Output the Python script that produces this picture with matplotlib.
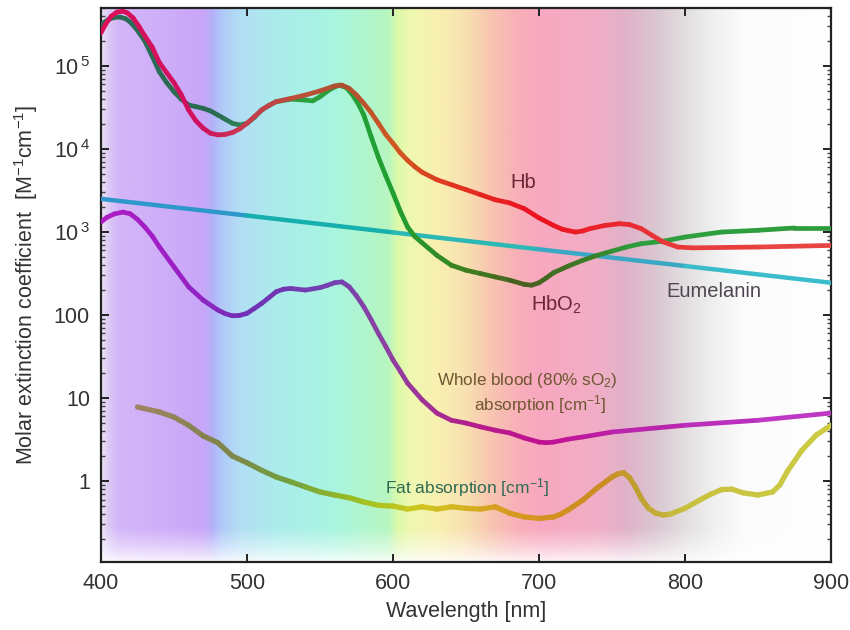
import numpy as np
import matplotlib
matplotlib.use("Agg")
import matplotlib.pyplot as plt
from matplotlib.collections import LineCollection
from matplotlib.colors import to_rgb
from matplotlib.ticker import FixedLocator, FixedFormatter, LogLocator, NullFormatter

plt.rcParams['font.family'] = ['Liberation Sans', 'DejaVu Sans']
plt.rcParams['mathtext.fontset'] = 'custom'
plt.rcParams['mathtext.rm'] = 'Liberation Sans'
plt.rcParams['mathtext.it'] = 'Liberation Sans'

# ---------------- data ----------------
hb_wl = [400, 403, 407, 411, 415, 418, 422, 426, 430, 435, 440, 445, 450, 455, 460, 465, 470,
         475, 480, 485, 490, 495, 500, 505, 510, 515, 520, 530, 540, 550, 560, 565, 570, 575,
         580, 585, 590, 595, 600, 605, 610, 615, 620, 630, 640, 650, 660, 670, 680, 690, 700,
         710, 716, 720, 725, 730, 735, 745, 755, 762, 770, 778, 785, 795, 805, 850, 900]
hb_val = [251000, 316000, 398000, 447000, 457000, 437000, 380000, 300000, 230000, 170000,
          110000, 83000, 63000, 45000, 29500, 21900, 17800, 15500, 14800, 15000, 15800, 17500,
          20400, 24500, 29500, 33500, 37200, 40700, 44700, 50100, 57500, 58900, 53700, 44700,
          35500, 27500, 20400, 15000, 11700, 9000, 7300, 6100, 5250, 4270, 3720, 3240, 2820,
          2450, 2240, 1910, 1480, 1200, 1080, 1040, 1000, 1030, 1100, 1200, 1260, 1230, 1100,
          900, 760, 660, 645, 660, 690]

hbo2_wl = [400, 405, 409, 413, 417, 420, 425, 430, 435, 440, 445, 450, 455, 460, 465, 470, 475,
           480, 485, 490, 495, 500, 505, 510, 515, 520, 530, 540, 545, 550, 557, 563, 568, 572,
           576, 580, 585, 590, 595, 600, 605, 610, 615, 620, 630, 640, 650, 660, 670, 680, 690,
           695, 700, 705, 710, 720, 730, 740, 750, 760, 770, 785, 800, 825, 850, 875, 900]
hbo2_val = [316000, 363000, 385000, 389000, 370000, 339000, 269000, 200000, 132000, 85000,
            63000, 49000, 39800, 33900, 32400, 30900, 28800, 25700, 22900, 20400, 19500, 20400,
            24000, 29500, 33500, 37200, 39800, 38900, 38000, 42700, 52500, 58900, 55000, 45700,
            35500, 25700, 14100, 7940, 4790, 2950, 1780, 1150, 880, 741, 525, 398, 347, 316,
            288, 263, 234, 229, 245, 280, 324, 389, 457, 525, 589, 661, 724, 776, 871, 1000,
            1050, 1120, 1120]

mel_wl = [400, 500, 600, 700, 800, 900]
mel_val = [2510, 1580, 990, 620, 390, 245]

blood_wl = [400, 404, 409, 415, 420, 425, 430, 435, 440, 450, 460, 470, 480, 485, 490, 495, 500,
            505, 510, 515, 520, 525, 530, 540, 550, 555, 560, 565, 570, 575, 580, 585, 590, 595,
            600, 605, 610, 615, 620, 630, 640, 650, 660, 670, 680, 690, 700, 705, 710, 720, 730,
            750, 800, 850, 900]
blood_val = [1320, 1500, 1650, 1740, 1660, 1420, 1150, 900, 661, 380, 219, 151, 115, 104, 98,
             99, 105, 120, 138, 162, 191, 205, 209, 200, 214, 228, 245, 251, 219, 170, 126, 88,
             60, 42, 28.8, 21, 15.1, 12, 9.5, 6.6, 5.4, 5.0, 4.5, 4.1, 3.8, 3.3, 2.95, 2.9, 2.95,
             3.2, 3.4, 3.9, 4.7, 5.4, 6.6]

fat_wl = [425, 440, 450, 460, 470, 480, 490, 500, 510, 520, 530, 540, 550, 560, 570, 580, 590,
          600, 610, 620, 630, 640, 650, 660, 670, 680, 690, 700, 710, 715, 720, 730, 740, 750,
          754, 758, 762, 766, 770, 775, 780, 785, 790, 800, 810, 818, 825, 832, 840, 850, 860,
          865, 870, 880, 890, 900]
fat_val = [7.8, 6.8, 5.9, 4.7, 3.5, 2.9, 2.0, 1.66, 1.35, 1.12, 0.98, 0.85, 0.74, 0.68, 0.63,
           0.56, 0.51, 0.50, 0.46, 0.49, 0.46, 0.49, 0.47, 0.46, 0.49, 0.41, 0.37, 0.355, 0.37,
           0.40, 0.45, 0.59, 0.83, 1.12, 1.22, 1.26, 1.10, 0.85, 0.62, 0.47, 0.41, 0.39, 0.40,
           0.47, 0.59, 0.70, 0.79, 0.80, 0.72, 0.68, 0.74, 0.90, 1.30, 2.34, 3.6, 4.7]

x_ticks = [400, 500, 600, 700, 800, 900]
y_ticks = [1, 10, 100, 1e3, 1e4, 1e5]
y_tick_labels = ['1', '10', '100', r'$10^{\,3}$', r'$10^{\,4}$', r'$10^{\,5}$']

# ---------------- styling helpers ----------------
def grad_colors(wl_stops, col_stops, wl):
    rgb = np.array([to_rgb(c) for c in col_stops])
    return np.stack([np.interp(wl, wl_stops, rgb[:, i]) for i in range(3)], axis=1)

def grad_line(ax, x, y, wl_stops, col_stops, lw=3.0, z=3):
    x = np.asarray(x, float); y = np.asarray(y, float)
    pts = np.stack([x, y], axis=1)
    segs = np.stack([pts[:-1], pts[1:]], axis=1)
    mids = 0.5 * (x[:-1] + x[1:])
    cols = grad_colors(wl_stops, col_stops, mids)
    lc = LineCollection(segs, colors=cols, linewidths=lw, capstyle='round',
                        joinstyle='round', zorder=z)
    ax.add_collection(lc)

W, H = 850, 630
fig = plt.figure(figsize=(W / 100, H / 100), dpi=100)
pos = [101 / W, 1 - 562 / H, (831 - 101) / W, (562 - 8) / H]

# background spectrum
bg = fig.add_axes(pos, zorder=0)
bg_wl_stops = [400, 405, 412, 470, 476, 482, 495, 520, 560, 597, 603, 612, 630, 650, 665, 685,
               700, 740, 760, 780, 800, 820, 840, 900]
bg_cols = ['#ece2f4', '#dccaf6', '#d4b6f8', '#c9a6f8', '#b4b0f8', '#b0c8f8', '#b2def4', '#acecec',
           '#a8f5e0', '#b8f6c0', '#dcf8a8', '#eef8b0', '#f8f0b0', '#f8e0b0', '#f8c8b0', '#f8b0b8',
           '#f8a8c0', '#f0aec6', '#e0b2c8', '#dac6d0', '#e2dee0', '#f0f0f0', '#fbfbfb', '#ffffff']
gx = np.linspace(400, 900, 1000)
row = grad_colors(bg_wl_stops, bg_cols, gx)
gy = np.linspace(0, 1, 300)
fade = np.clip(gy / 0.06, 0, 1) ** 0.8
fade = 0.12 + 0.88 * fade
img = 1 - fade[:, None, None] * (1 - row[None, :, :])
bg.imshow(img, origin='lower', aspect='auto', extent=[400, 900, 0, 1], interpolation='bilinear')
bg.set_xlim(400, 900); bg.set_ylim(0, 1)
bg.axis('off')

ax = fig.add_axes(pos, zorder=1)
ax.patch.set_alpha(0)
ax.set_yscale('log')
ax.set_xlim(400, 900)
ax.set_ylim(0.106, 5.0e5)

grad_line(ax, mel_wl, mel_val, [400, 500, 560, 650, 750, 900],
          ['#3a8ed0', '#22a2c4', '#14b2a8', '#2cb8b4', '#3aa8c4', '#3cc6d0'], lw=3.2)
grad_line(ax, hbo2_wl, hbo2_val, [400, 480, 500, 540, 600, 650, 690, 730, 770, 900],
          ['#2a6e55', '#2a6a50', '#308a58', '#2ca040', '#1ea030', '#3c8020', '#4a5c20',
           '#3c7a24', '#2ca040', '#2e9c3c'], lw=3.4)
grad_line(ax, hb_wl, hb_val, [400, 470, 500, 540, 570, 600, 650, 700, 790, 900],
          ['#dc1058', '#d01060', '#c83c50', '#b85036', '#b05030', '#d05822', '#e23020',
           '#ec1020', '#e83838', '#e84848'], lw=3.4)
grad_line(ax, blood_wl, blood_val, [400, 460, 500, 560, 600, 650, 700, 800, 900],
          ['#b01cc4', '#9820c4', '#7030b4', '#7442b0', '#9040a0', '#b0208c', '#c01090',
           '#b82cb8', '#c03cc8'], lw=3.4)
grad_line(ax, fat_wl, fat_val, [425, 480, 530, 580, 620, 680, 740, 770, 800, 900],
          ['#a08464', '#80824c', '#72a040', '#a0c020', '#d0c820', '#d89a20', '#cc8a22',
           '#c0a030', '#c8c040', '#cccc44'], lw=3.8)

# axes styling
for s in ax.spines.values():
    s.set_color('#222222'); s.set_linewidth(1.6)
ax.xaxis.set_major_locator(FixedLocator(x_ticks))
ax.set_xticklabels([str(v) for v in x_ticks])
ax.yaxis.set_major_locator(FixedLocator(y_ticks))
ax.yaxis.set_major_formatter(FixedFormatter(y_tick_labels))
ax.yaxis.set_minor_locator(LogLocator(base=10, subs=np.arange(2, 10), numticks=20))
ax.yaxis.set_minor_formatter(NullFormatter())
ax.tick_params(axis='both', which='major', direction='in', length=6, width=1.4,
               colors='#222222', labelcolor='#333333', labelsize=15.5, top=True, right=True)
ax.tick_params(axis='y', which='minor', direction='in', length=3, width=1.0,
               colors='#444444', right=True)
ax.tick_params(axis='y', which='major', pad=8)
ax.tick_params(axis='x', which='major', pad=8)

ax.set_xlabel('Wavelength [nm]', fontsize=15.5, color='#333333', labelpad=5)
ax.set_ylabel(r'Molar extinction coefficient  [M$^{-1}$cm$^{-1}$]', fontsize=15.5,
              color='#333333', labelpad=10)

# annotations
ax.text(689, 3980, 'Hb', fontsize=14.5, color='#6a2636', ha='center', va='center')
ax.text(712, 132, r'HbO$_2$', fontsize=14.5, color='#6a2636', ha='center', va='center')
ax.text(820, 190, 'Eumelanin', fontsize=14.5, color='#4e4650', ha='center', va='center')
ax.text(692, 16.5, r'Whole blood (80% sO$_2$)', fontsize=12.3, color='#6e5630',
        ha='center', va='center')
ax.text(701, 8.4, r'absorption [cm$^{-1}$]', fontsize=12.3, color='#6e5630',
        ha='center', va='center')
ax.text(651, 0.83, r'Fat absorption [cm$^{-1}$]', fontsize=12.5, color='#2e6a52',
        ha='center', va='center')

fig.savefig('out.png', dpi=100)
